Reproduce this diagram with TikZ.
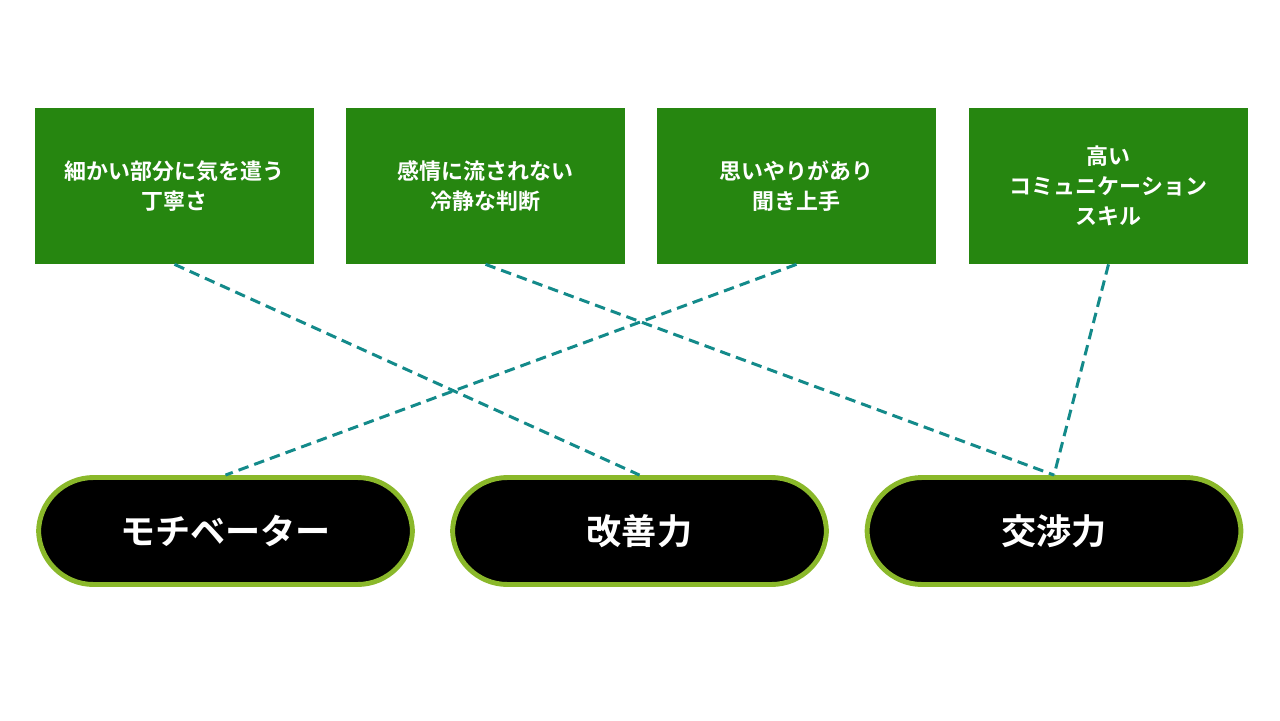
\documentclass[tikz,border=0pt]{standalone}
\usepackage{fontspec}
\newfontfamily\cjk{Noto Sans CJK JP Bold}
\usetikzlibrary{positioning}
\definecolor{boxgreen}{HTML}{268610}
\definecolor{pillrim}{HTML}{8AB82A}
\definecolor{linkteal}{HTML}{138A8A}
\tikzset{
  trait/.style={fill=boxgreen,text=white,minimum width=5.58cm,minimum height=3.12cm,
    align=center,font=\cjk\fontsize{12.5}{17}\selectfont,inner sep=0pt},
  skill/.style={fill=black,draw=pillrim,line width=2.8pt,text=white,rounded corners=1.1cm,
    minimum width=7.48cm,minimum height=2.14cm,font=\cjk\fontsize{20}{24}\selectfont,inner sep=0pt},
  link/.style={draw=linkteal,line width=1.7pt,dashed,dash pattern=on 6pt off 3.5pt}
}
\begin{document}
\begin{tikzpicture}[x=0.02cm,y=-0.02cm]
      \useasboundingbox (0,0) rectangle (1280,720);
      \node[trait] (b1) at (174.5,186) {細かい部分に気を遣う\\丁寧さ};
      \node[trait] (b2) at (485.5,186) {感情に流されない\\冷静な判断};
      \node[trait] (b3) at (796.5,186) {思いやりがあり\\聞き上手};
      \node[trait] (b4) at (1108.5,186) {高い\\コミュニケーション\\スキル};
      \node[skill] (p1) at (225.5,531) {モチベーター};
      \node[skill] (p2) at (639.5,531) {改善力};
      \node[skill] (p3) at (1054,531) {交渉力};
      \draw[link] (b1.south) -- (p2.north);
      \draw[link] (b2.south) -- (p3.north);
      \draw[link] (b3.south) -- (p1.north);
      \draw[link] (b4.south) -- (p3.north);
    \end{tikzpicture}
\end{document}
